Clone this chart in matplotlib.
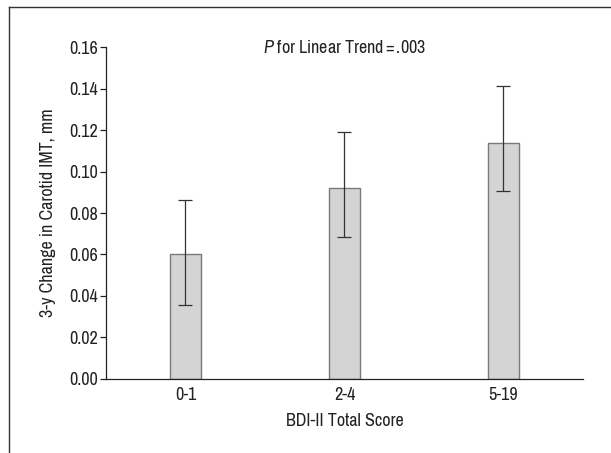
import matplotlib
matplotlib.use("Agg")
import matplotlib.pyplot as plt
from matplotlib.lines import Line2D

# data
groups = ["0-1", "2-4", "5-19"]
change = [0.060, 0.092, 0.1135]
err_low = [0.0357, 0.0684, 0.0904]
err_high = [0.0865, 0.1192, 0.1414]

plt.rcParams['font.family'] = ['Liberation Sans Narrow', 'Archivo Narrow', 'DejaVu Sans']
plt.rcParams['mathtext.fontset'] = 'custom'
plt.rcParams['mathtext.rm'] = 'Archivo Narrow'
plt.rcParams['mathtext.it'] = 'Archivo Narrow:italic'

fs = 13
txt = '#222222'

fig = plt.figure(figsize=(6.11, 4.53), dpi=100)
ax = fig.add_axes([0.1735, 0.1634, 0.7805, 0.7328])

x = list(range(len(groups)))
yerr = [[c - lo for c, lo in zip(change, err_low)],
        [hi - c for c, hi in zip(change, err_high)]]
ax.bar(x, change, width=0.2, color='#d4d4d4', edgecolor='#7a7a7a', linewidth=1.0, zorder=2)
ax.errorbar(x, change, yerr=yerr, fmt='none', ecolor='#333333', elinewidth=0.9,
            capsize=4.7, capthick=0.9, zorder=3)

ax.set_xlim(-0.5, 2.5)
ax.set_ylim(0, 0.16)
ax.set_yticks([0.00, 0.02, 0.04, 0.06, 0.08, 0.10, 0.12, 0.14, 0.16])
ax.set_yticklabels(["%.2f" % v for v in ax.get_yticks()])
ax.set_xticks(x)
ax.set_xticklabels(groups)
ax.tick_params(axis='y', length=4, width=0.9, color=txt, labelsize=fs, pad=2, labelcolor=txt)
ax.tick_params(axis='x', length=0, labelsize=fs, pad=6, labelcolor=txt)
for s in ['top', 'right']:
    ax.spines[s].set_visible(False)
for s in ['left', 'bottom']:
    ax.spines[s].set_color(txt)
    ax.spines[s].set_linewidth(0.9)

ax.set_xlabel("BDI-II Total Score", fontsize=fs, color=txt, labelpad=7)
ax.set_ylabel("3-y Change in Carotid IMT, mm", fontsize=fs, color=txt, labelpad=9)
ax.text(1, 0.16, r"$\mathit{P}$ for Linear Trend$\,$=$\,$.003", ha='center', va='center',
        fontsize=fs, color=txt)

# outer frame (top and left edge)
fig.add_artist(Line2D([9 / 611, 1], [1 - 7 / 453, 1 - 7 / 453], transform=fig.transFigure,
                      color='#333333', linewidth=1.0))
fig.add_artist(Line2D([9 / 611, 9 / 611], [0, 1 - 7 / 453], transform=fig.transFigure,
                      color='#333333', linewidth=1.0))

fig.savefig("out.png", dpi=100)
